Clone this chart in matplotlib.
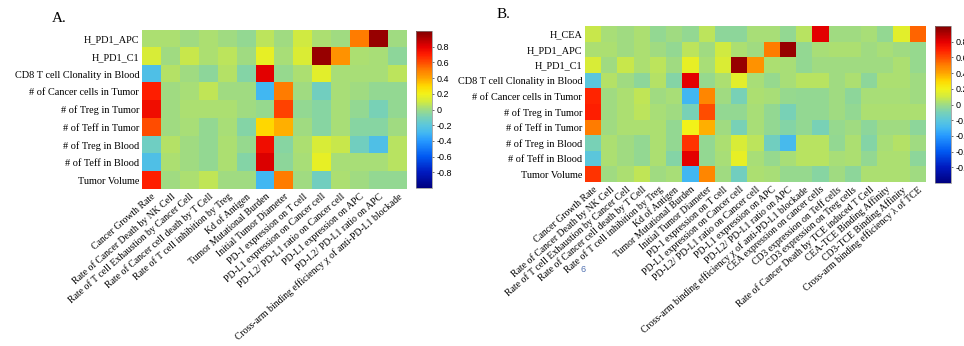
import matplotlib
matplotlib.use('Agg')
import matplotlib.pyplot as plt
import numpy as np
from matplotlib.colors import LinearSegmentedColormap

# row / column labels
rows_a = ["H_PD1_APC", "H_PD1_C1", "CD8 T cell Clonality in Blood",
          "# of Cancer cells in Tumor", "# of Treg in Tumor", "# of Teff in Tumor",
          "# of Treg in Blood", "# of Teff in Blood", "Tumor Volume"]
rows_b = ["H_CEA"] + rows_a

cols_a = ["Cancer Growth Rate", "Rate of Cancer Death by NK Cell",
          "Rate of T cell Exhaustion by Cancer Cell", "Rate of Cancer cell death by T Cell",
          "Rate of T cell inhibition by Treg", "Kd of Antigen", "Tumor Mutational Burden",
          "Initial Tumor Diameter", "PD-1 expression on T cell",
          "PD-L1 expression on Cancer cell", "PD-L2/ PD-L1 ratio on Cancer cell",
          "PD-L1 expression on APC", "PD-L2/ PD-L1 ratio on APC",
          "Cross-arm binding efficiency \u03c7 of anti-PD-L1 blockade"]
cols_b = cols_a + ["CEA expression on cancer cells", "CD3 expression on Teff cells",
                   "CD3 expression on Treg cells", "Rate of Cancer Death by TCE induced T Cell",
                   "CEA-TCE Binding Affinity", "CD3-TCE Binding Affinity",
                   "Cross-arm binding efficiency \u03bb of TCE"]

# sensitivity coefficients, panel A (rows_a x cols_a)
vals_a = [
    [0.03, 0.03, 0.00, 0.03, 0.00, -0.03, 0.06, 0.00, 0.10, 0.03, 0.00, 0.50, 0.95, 0.00],
    [0.12, 0.00, 0.08, 0.03, 0.06, 0.00, 0.17, 0.02, 0.13, 0.95, 0.45, 0.03, 0.02, -0.04],
    [-0.25, 0.04, 0.00, -0.04, 0.04, -0.07, 0.80, -0.02, 0.03, 0.15, 0.02, 0.02, 0.02, 0.06],
    [0.70, 0.00, 0.02, 0.07, 0.00, 0.00, -0.30, 0.50, 0.00, -0.12, 0.02, 0.00, -0.03, -0.03],
    [0.75, 0.00, 0.03, 0.03, 0.03, 0.00, -0.02, 0.62, -0.03, -0.06, 0.02, -0.03, -0.10, -0.03],
    [0.60, 0.00, 0.02, -0.03, 0.02, -0.07, 0.30, 0.38, 0.00, -0.06, 0.02, -0.06, -0.06, 0.00],
    [-0.13, 0.04, 0.00, -0.03, 0.03, -0.02, 0.75, -0.06, 0.03, 0.12, 0.08, -0.12, -0.25, 0.05],
    [-0.25, 0.03, 0.00, -0.03, 0.03, -0.07, 0.82, -0.04, 0.02, 0.17, 0.02, 0.02, 0.02, 0.05],
    [0.70, 0.00, 0.03, 0.07, 0.00, 0.00, -0.30, 0.50, 0.00, -0.12, 0.03, 0.00, -0.03, -0.03],
]

# panel B (rows_b x cols_b)
vals_b = [
    [0.08, 0.02, 0.00, 0.03, -0.03, 0.00, -0.03, 0.06, -0.04, -0.04, 0.02, 0.02, -0.03, 0.05, 0.80, 0.00, 0.00, 0.02, -0.03, 0.15, 0.55],
    [0.03, 0.03, 0.00, 0.03, 0.00, -0.03, 0.06, 0.00, 0.10, 0.03, 0.00, 0.50, 0.95, -0.03, 0.02, 0.03, 0.03, 0.00, 0.02, 0.00, -0.02],
    [0.12, 0.00, 0.08, 0.03, 0.06, 0.00, 0.17, 0.02, 0.13, 0.95, 0.45, 0.03, 0.02, -0.03, 0.00, 0.00, 0.00, 0.00, 0.00, 0.03, -0.02],
    [-0.20, 0.04, 0.00, -0.04, 0.04, -0.07, 0.80, -0.02, 0.03, 0.15, 0.02, -0.02, 0.02, 0.05, 0.05, 0.00, 0.03, -0.04, 0.03, 0.03, 0.00],
    [0.68, 0.00, 0.03, 0.07, 0.00, 0.02, -0.30, 0.48, 0.00, -0.10, 0.03, 0.02, -0.02, -0.03, -0.03, 0.00, -0.04, 0.02, 0.02, 0.02, 0.00],
    [0.70, 0.00, 0.03, 0.06, 0.02, 0.00, -0.10, 0.60, -0.03, -0.03, 0.02, -0.03, -0.10, -0.03, -0.03, 0.00, -0.03, 0.03, 0.03, 0.03, 0.03],
    [0.50, 0.00, 0.03, 0.03, 0.03, -0.03, 0.20, 0.38, 0.00, -0.10, 0.02, -0.03, -0.07, -0.03, -0.10, -0.02, 0.00, -0.04, 0.00, 0.00, -0.04],
    [-0.10, 0.03, 0.00, -0.03, 0.03, -0.03, 0.65, -0.03, 0.03, 0.12, 0.06, -0.12, -0.28, 0.05, 0.05, -0.03, 0.03, -0.07, 0.02, 0.04, 0.00],
    [-0.20, 0.03, 0.00, -0.03, 0.03, -0.07, 0.80, -0.03, 0.02, 0.17, 0.02, -0.02, 0.02, 0.05, 0.05, 0.02, 0.03, -0.03, 0.03, 0.03, -0.04],
    [0.65, 0.00, 0.03, 0.07, 0.00, 0.02, -0.30, 0.48, 0.00, -0.12, 0.03, 0.02, -0.02, -0.02, -0.06, 0.00, -0.04, 0.03, 0.03, 0.03, 0.00],
]

cbar_ticks = [-0.8, -0.6, -0.4, -0.2, 0, 0.2, 0.4, 0.6, 0.8]

# washed-out jet like the original figure
nodes = [(-1.0, (0.0, 0.0, 0.5)), (-0.8, (0.0, 0.1, 0.75)), (-0.6, (0.0, 0.35, 0.95)),
         (-0.4, (0.15, 0.6, 1.0)), (-0.3, (0.26, 0.72, 0.95)), (-0.2, (0.36, 0.78, 0.86)),
         (-0.1, (0.47, 0.82, 0.72)), (0.0, (0.62, 0.86, 0.52)), (0.1, (0.82, 0.92, 0.25)),
         (0.2, (0.95, 0.95, 0.1)), (0.3, (1.0, 0.85, 0.0)), (0.4, (1.0, 0.65, 0.0)),
         (0.5, (1.0, 0.5, 0.0)), (0.6, (1.0, 0.3, 0.0)), (0.7, (1.0, 0.12, 0.0)),
         (0.8, (0.9, 0.0, 0.0)), (1.0, (0.5, 0.0, 0.0))]
cmap = LinearSegmentedColormap.from_list('paljet', [((v + 1) / 2, c) for v, c in nodes])

SERIF = ['Liberation Serif', 'DejaVu Serif']
SANS = ['Liberation Sans', 'DejaVu Sans']

fig = plt.figure(figsize=(9.64, 3.46), dpi=100)
W, H = 964.0, 346.0


def box(x0, y0, x1, y1):
    return [x0 / W, 1 - y1 / H, (x1 - x0) / W, (y1 - y0) / H]


def heat(ax_box, cb_box, vals, rows, cols, letter, letter_xy):
    ax = fig.add_axes(box(*ax_box))
    im = ax.imshow(np.array(vals), cmap=cmap, vmin=-1, vmax=1, aspect='auto',
                   interpolation='nearest')
    ax.set_yticks(range(len(rows)))
    ax.set_yticklabels(rows, fontfamily=SERIF, fontsize=7.4)
    ax.set_xticks(range(len(cols)))
    ax.set_xticklabels(cols, fontfamily=SERIF, fontsize=7.0, rotation=41,
                       ha='right', va='top', rotation_mode='anchor')
    ax.tick_params(length=0, pad=2)
    for s in ax.spines.values():
        s.set_visible(False)

    cax = fig.add_axes(box(*cb_box))
    cb = fig.colorbar(im, cax=cax, ticks=cbar_ticks)
    cb.ax.set_yticklabels(['%g' % t for t in cbar_ticks], fontfamily=SANS, fontsize=6.5)
    cb.ax.tick_params(length=1.5, width=0.4, pad=2)
    cb.outline.set_linewidth(0.5)
    cb.outline.set_edgecolor('#888888')

    fig.text(letter_xy[0] / W, 1 - letter_xy[1] / H, letter, fontfamily=SERIF,
             fontsize=11, ha='left', va='center')


heat((142, 30, 407, 189), (416, 31, 432, 188), vals_a, rows_a, cols_a, 'A.', (52, 18))
heat((585, 26, 926, 182), (935, 26, 951, 183), vals_b, rows_b, cols_b, 'B.', (497, 15))

# stray page number in the source figure
fig.text(583 / W, 1 - 269 / H, '6', color='#5070b0', fontfamily=SANS, fontsize=6.5,
         ha='center', va='center')

fig.savefig('out.png', dpi=100)
